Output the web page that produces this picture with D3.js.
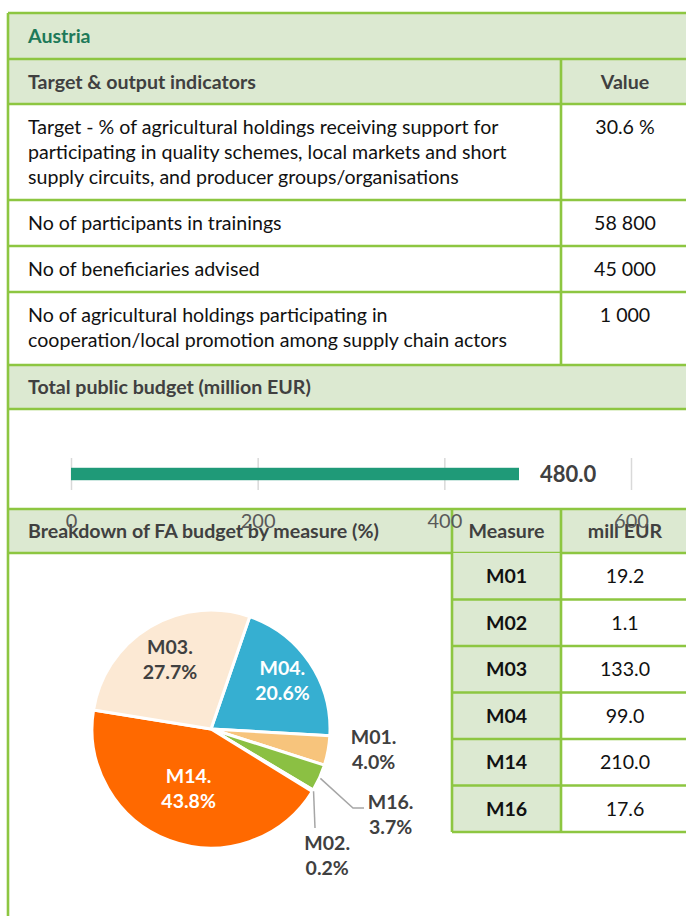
<!DOCTYPE html>
<html>
<head>
<meta charset="utf-8">
<script src="https://cdn.jsdelivr.net/npm/d3@7"></script>
<style>
  body { margin: 0; background: #fff; }
  svg { display: block; font-family: Lato, "Open Sans", sans-serif; }
</style>
</head>
<body>
<svg id="chart" width="686" height="916"></svg>
<script>
(function () {
    'use strict';

    // ---- data ----
    var country = "Austria";
    var indicatorLabels = [
        ["Target - % of agricultural holdings receiving support for",
         "participating in quality schemes, local markets and short",
         "supply circuits, and producer groups/organisations"],
        ["No of participants in trainings"],
        ["No of beneficiaries advised"],
        ["No of agricultural holdings participating in",
         "cooperation/local promotion among supply chain actors"]
    ];
    var indicatorValues = ["30.6 %", "58 800", "45 000", "1 000"];
    var budgetCategories = ["Total public budget"];
    var budgetValues = [480.0];
    var budgetTicks = [0, 200, 400, 600];
    var measures = ["M01", "M02", "M03", "M04", "M14", "M16"];
    var measureBudget = [19.2, 1.1, 133.0, 99.0, 210.0, 17.6];
    var pieOrder = ["M04", "M01", "M16", "M02", "M14", "M03"];

    // ---- style ----
    var green = "#8dc641", headBg = "#dce9d1", txt = "#404040";
    var sliceColor = { M01: "#f7c47c", M02: "#a5a5a5", M03: "#fce9d4", M04: "#36afd1", M14: "#ff6900", M16: "#8bc043" };
    var labelWhite = { M04: true, M14: true };
    // label placement: distance from centre (px) and optional angle (deg)
    var labelPlace = {
        M03: { d: 80 }, M04: { d: 86 }, M14: { d: 64 },
        M01: { d: 164, a: 97.5 }, M16: { d: 199, a: 115.5 }, M02: { d: 172, a: 137.5 }
    };

    var svg = d3.select("#chart");
    var L = 8, R = 689, colX = 561, valX = 625, textX = 28;
    var fs = 19.6;

    function hline(y, x1, x2) {
        svg.append("line").attr("x1", x1).attr("x2", x2).attr("y1", y).attr("y2", y)
            .style("stroke", green).style("stroke-width", 2.6);
    }
    function vline(x, y1, y2) {
        svg.append("line").attr("x1", x).attr("x2", x).attr("y1", y1).attr("y2", y2)
            .style("stroke", green).style("stroke-width", 2.6);
    }
    function header(y, h, label, color) {
        svg.append("rect").attr("x", L).attr("y", y).attr("width", R - L).attr("height", h).style("fill", headBg);
        svg.append("text").attr("x", textX).attr("y", y + h / 2 + 7)
            .style("font-size", fs + "px").style("font-weight", "bold").style("fill", color || txt)
            .text(label);
    }

    // country + indicator header
    var y = 13;
    header(y, 46, country, "#1e7a59");
    hline(y, L, R);
    y += 46;
    header(y, 45, "Target & output indicators");
    svg.append("text").attr("x", valX).attr("y", y + 45 / 2 + 7).attr("text-anchor", "middle")
        .style("font-size", fs + "px").style("font-weight", "bold").style("fill", txt).text("Value");
    hline(y, L, R);
    vline(colX, y, y + 45);
    y += 45;

    // indicator rows
    indicatorLabels.forEach(function (lines, i) {
        var h = lines.length === 2 ? 73 : lines.length * 25 + 21;
        hline(y, L, R);
        vline(colX, y, y + h);
        svg.append("text").attr("x", textX).attr("y", y + 30)
            .style("font-size", fs + "px").style("fill", "#111")
            .selectAll("tspan").data(lines).enter().append("tspan")
            .attr("x", textX).attr("dy", function (d, j) { return j === 0 ? 0 : 25; })
            .text(function (d) { return d; });
        svg.append("text").attr("x", valX).attr("y", y + 30).attr("text-anchor", "middle")
            .style("font-size", fs + "px").style("fill", "#111").text(indicatorValues[i]);
        y += h;
    });

    // budget header
    header(y, 44, "Total public budget (million EUR)");
    hline(y, L, R);
    var budgetTop = y + 44;
    hline(budgetTop, L, R);
    var breakTop = 509;

    // breakdown header
    header(breakTop, 44, "Breakdown of FA budget by measure (%)");
    var tblX1 = 452;
    svg.append("text").attr("x", (tblX1 + colX) / 2).attr("y", breakTop + 29).attr("text-anchor", "middle")
        .style("font-size", fs + "px").style("font-weight", "bold").style("fill", txt).text("Measure");
    svg.append("text").attr("x", valX).attr("y", breakTop + 29).attr("text-anchor", "middle")
        .style("font-size", fs + "px").style("font-weight", "bold").style("fill", txt).text("mill EUR");
    hline(breakTop, L, R);
    var tblTop = breakTop + 44;
    hline(tblTop, L, R);

    // measure table
    var rowH = 46.5;
    var rows = svg.append("g").selectAll("g").data(measures).enter().append("g")
        .attr("transform", function (d, i) { return "translate(0," + (tblTop + i * rowH) + ")"; });
    rows.append("rect").attr("x", tblX1).attr("width", colX - tblX1).attr("height", rowH).style("fill", headBg);
    rows.append("text").attr("x", (tblX1 + colX) / 2).attr("y", rowH / 2 + 7).attr("text-anchor", "middle")
        .style("font-size", fs + "px").style("font-weight", "bold").style("fill", "#111")
        .text(function (d) { return d; });
    rows.append("text").attr("x", valX).attr("y", rowH / 2 + 7).attr("text-anchor", "middle")
        .style("font-size", fs + "px").style("fill", "#111")
        .text(function (d, i) { return measureBudget[i].toFixed(1); });
    measures.forEach(function (d, i) { hline(tblTop + (i + 1) * rowH, tblX1, R); });
    var tblBottom = tblTop + measures.length * rowH;
    vline(tblX1, breakTop, tblBottom);
    vline(colX, breakTop, tblBottom);

    // outer left border
    vline(L, 13, 916);

    // ---- pie ----
    var total = d3.sum(measureBudget);
    var pieData = pieOrder.map(function (m) {
        return { m: m, v: measureBudget[measures.indexOf(m)] };
    });
    var cx = 211, cy = 729, r = 119;
    var start = 19 * Math.PI / 180;
    var pie = d3.pie().sort(null).value(function (d) { return d.v; })
        .startAngle(start).endAngle(start + 2 * Math.PI);
    var arc = d3.arc().innerRadius(0).outerRadius(r);
    var arcs = pie(pieData);
    var pg = svg.append("g").attr("transform", "translate(" + cx + "," + cy + ")");
    pg.selectAll("path").data(arcs).enter().append("path")
        .attr("d", arc)
        .style("fill", function (d) { return sliceColor[d.data.m]; })
        .style("stroke", "#fff").style("stroke-width", 3).style("stroke-linejoin", "round");

    function polar(dist, ang) {
        return [dist * Math.sin(ang), -dist * Math.cos(ang)];
    }
    var fmt = d3.format(".1f");
    arcs.forEach(function (d) {
        var p = labelPlace[d.data.m];
        var mid = (d.startAngle + d.endAngle) / 2;
        var ang = p.a !== undefined ? p.a * Math.PI / 180 : mid;
        var pos = polar(p.d, ang);
        var t = pg.append("text").attr("text-anchor", "middle")
            .attr("transform", "translate(" + pos[0] + "," + (pos[1] - 6) + ")")
            .style("font-size", "19.5px").style("font-weight", "bold")
            .style("fill", labelWhite[d.data.m] ? "#fff" : txt);
        t.append("tspan").attr("x", 0).attr("y", 0).text(d.data.m + ".");
        t.append("tspan").attr("x", 0).attr("y", 25).text(fmt(d.data.v / total * 100) + "%");
    });
    // leader lines for small outside slices
    function leader(m, pts) {
        var d = arcs.filter(function (a) { return a.data.m === m; })[0];
        var mid = (d.startAngle + d.endAngle) / 2;
        var e = polar(r + 1, mid);
        pg.append("polyline")
            .attr("points", [e].concat(pts).map(function (p) { return p.join(","); }).join(" "))
            .style("fill", "none").style("stroke", "#a6a6a6").style("stroke-width", 1.5);
    }
    leader("M16", [[142, 79], [153, 79]]);
    leader("M02", [[104, 99]]);

    // ---- bar chart (drawn last so tick labels overlap the header) ----
    var x = d3.scaleLinear().domain([0, 600]).range([71, 631]);
    var yb = d3.scaleBand().domain(budgetCategories).range([458, 490]).padding(0.44);
    var axis = d3.axisBottom(x).tickValues(budgetTicks).tickSizeInner(-32).tickSizeOuter(0).tickPadding(24);
    var ag = svg.append("g").attr("transform", "translate(0,490)").call(axis);
    ag.select(".domain").remove();
    ag.selectAll(".tick line").style("stroke", "#d9d9d9").style("stroke-width", 1.5);
    ag.selectAll(".tick text").style("font-size", "20px").style("fill", "#595959")
        .style("font-family", "Lato, sans-serif");

    svg.selectAll(".bar").data(budgetValues).enter().append("rect").attr("class", "bar")
        .attr("x", x(0)).attr("y", yb(budgetCategories[0]))
        .attr("width", function (d) { return x(d) - x(0); })
        .attr("height", yb.bandwidth())
        .style("fill", "#1f9a78");
    svg.selectAll(".barlabel").data(budgetValues).enter().append("text").attr("class", "barlabel")
        .attr("x", function (d) { return x(d) + 21; })
        .attr("y", yb(budgetCategories[0]) + yb.bandwidth() / 2 + 8)
        .style("font-size", "22px").style("font-weight", "bold").style("fill", txt)
        .text(function (d) { return d.toFixed(1); });
}());
</script>
</body>
</html>
